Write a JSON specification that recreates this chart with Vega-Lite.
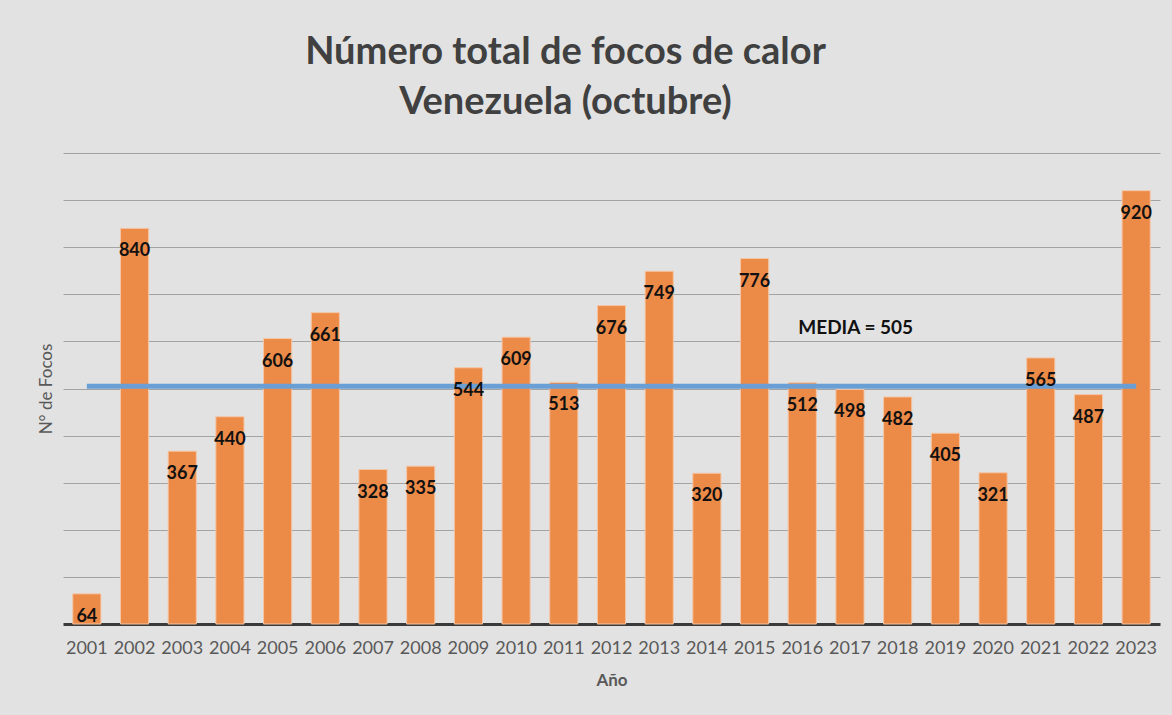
{
  "$schema": "https://vega.github.io/schema/vega-lite/v6.json",
  "autosize": {"type": "none"},
  "width": 1097,
  "height": 471,
  "padding": {"left": 63, "top": 153, "right": 12, "bottom": 91},
  "background": "#e2e2e2",
  "config": {"view": {"stroke": null}, "font": "Lato"},
  "title": {
    "text": ["Número total de focos de calor", "Venezuela (octubre)"],
    "font": "Lato",
    "fontSize": 38,
    "fontWeight": "bold",
    "color": "#404040",
    "lineHeight": 50,
    "anchor": "middle",
    "dx": -46,
    "offset": 31
  },
  "data": {
    "values": [
      {"anio": "2001", "focos": 64, "media": 505},
      {"anio": "2002", "focos": 840, "media": 505},
      {"anio": "2003", "focos": 367, "media": 505},
      {"anio": "2004", "focos": 440, "media": 505},
      {"anio": "2005", "focos": 606, "media": 505},
      {"anio": "2006", "focos": 661, "media": 505},
      {"anio": "2007", "focos": 328, "media": 505},
      {"anio": "2008", "focos": 335, "media": 505},
      {"anio": "2009", "focos": 544, "media": 505},
      {"anio": "2010", "focos": 609, "media": 505},
      {"anio": "2011", "focos": 513, "media": 505},
      {"anio": "2012", "focos": 676, "media": 505},
      {"anio": "2013", "focos": 749, "media": 505},
      {"anio": "2014", "focos": 320, "media": 505},
      {"anio": "2015", "focos": 776, "media": 505},
      {"anio": "2016", "focos": 512, "media": 505},
      {"anio": "2017", "focos": 498, "media": 505},
      {"anio": "2018", "focos": 482, "media": 505},
      {"anio": "2019", "focos": 405, "media": 505},
      {"anio": "2020", "focos": 321, "media": 505},
      {"anio": "2021", "focos": 565, "media": 505},
      {"anio": "2022", "focos": 487, "media": 505},
      {"anio": "2023", "focos": 920, "media": 505}
    ]
  },
  "encoding": {
    "x": {
      "field": "anio",
      "type": "nominal",
      "scale": {"paddingInner": 0.41, "paddingOuter": 0.205},
      "axis": {
        "title": "Año",
        "titleFont": "Lato",
        "titleFontSize": 17,
        "titleFontWeight": "bold",
        "titleColor": "#595959",
        "titlePadding": 15,
        "labelAngle": 0,
        "labelFont": "Lato",
        "labelFontSize": 18,
        "labelColor": "#595959",
        "labelPadding": 15,
        "ticks": false,
        "domainColor": "#3a3a3a",
        "domainWidth": 3,
        "grid": false
      }
    }
  },
  "layer": [
    {
      "mark": {"type": "bar", "color": "#ec8a48", "stroke": "#f5c6a5", "strokeWidth": 1},
      "encoding": {
        "y": {
          "field": "focos",
          "type": "quantitative",
          "scale": {"domain": [0, 1000]},
          "axis": {
            "title": "N° de Focos",
            "titleFont": "Lato",
            "titleFontSize": 17,
            "titleFontWeight": "normal",
            "titleColor": "#595959",
            "titlePadding": 8,
            "labels": false,
            "ticks": false,
            "domain": false,
            "values": [100, 200, 300, 400, 500, 600, 700, 800, 900, 1000],
            "gridColor": "#a3a3a3",
            "gridWidth": 1.2,
            "zindex": 0
          }
        }
      }
    },
    {
      "mark": {"type": "line", "color": "#6a9fd6", "strokeWidth": 5},
      "encoding": {
        "y": {"field": "media", "type": "quantitative"}
      }
    },
    {
      "mark": {"type": "text", "font": "Lato", "fontSize": 18, "fontWeight": "bold", "color": "#111111", "baseline": "middle", "dy": 23},
      "encoding": {
        "y": {"field": "focos", "type": "quantitative"},
        "text": {"field": "focos", "type": "quantitative"}
      }
    },
    {
      "data": {"values": [{"anio": "2016", "valor": 628, "etiqueta": "MEDIA = 505"}]},
      "mark": {"type": "text", "font": "Lato", "fontSize": 19, "fontWeight": "bold", "color": "#111111", "align": "left", "baseline": "middle", "dx": -4},
      "encoding": {
        "y": {"field": "valor", "type": "quantitative"},
        "text": {"field": "etiqueta", "type": "nominal"}
      }
    }
  ]
}
